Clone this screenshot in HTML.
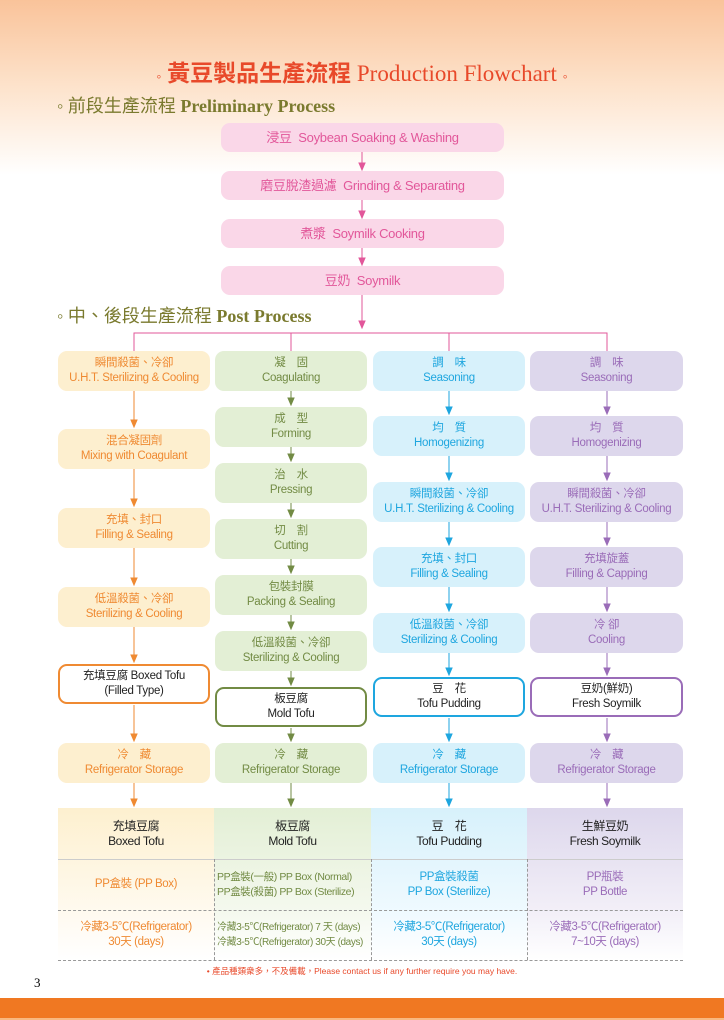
<!DOCTYPE html>
<html><head><meta charset="utf-8"><style>
*{margin:0;padding:0;box-sizing:border-box}
body{width:724px;height:1020px;position:relative;overflow:hidden;background:#fff;font-family:"Liberation Sans","Noto Sans CJK TC",sans-serif}
.bg{position:absolute;left:0;top:0;width:724px;height:175px;background:linear-gradient(#f9c39a 0%,#fde3cc 50%,#fff 100%)}
.b{position:absolute;border-radius:9px;text-align:center;font-size:11.5px;line-height:15px;display:flex;flex-direction:column;justify-content:center;letter-spacing:-0.3px}
.p{left:221px;width:283px;height:29px;background:#fad7e8;color:#e2579a;font-size:13px}
.o{left:58px;width:152px;height:40px;background:#fdefcf;color:#ef8a32}
.g{left:215px;width:152px;height:40px;background:#e3efd5;color:#728b44}
.c{left:373px;width:152px;height:40px;background:#d7f1fb;color:#1ea6df}
.u{left:530px;width:153px;height:40px;background:#ddd7ec;color:#9a6cb8}
.h{position:absolute;font-family:"Liberation Serif","Noto Serif CJK SC",serif;color:#7a7a2e;font-size:18px;font-weight:bold}
.td{position:absolute;text-align:center;font-size:11.5px;line-height:15px;display:flex;flex-direction:column;justify-content:center;letter-spacing:-0.4px}
</style></head><body>
<div class="bg"></div>
<div style="position:absolute;left:0;top:54px;width:724px;text-align:center;font-size:23px;color:#e8492a;font-family:'Liberation Serif','Noto Sans CJK TC',serif"><span style="font-size:14px">◦</span> <b style="font-family:'Noto Sans CJK TC',sans-serif">黃豆製品生產流程</b> Production Flowchart <span style="font-size:14px">◦</span></div>
<div class="h" style="left:57px;top:92px">◦ <span style="font-family:'Noto Sans CJK TC';font-weight:normal">前段生產流程</span> Preliminary Process</div>
<div class="h" style="left:57px;top:302px">◦ <span style="font-family:'Noto Sans CJK TC';font-weight:normal">中、後段生產流程</span> Post Process</div>

<div class="b p" style="top:123px">浸豆 &nbsp;Soybean Soaking &amp; Washing</div>
<div class="b p" style="top:171px">磨豆脫渣過濾 &nbsp;Grinding &amp; Separating</div>
<div class="b p" style="top:219px">煮漿 &nbsp;Soymilk Cooking</div>
<div class="b p" style="top:266px">豆奶 &nbsp;Soymilk</div>
<svg style="position:absolute;left:0;top:0" width="724" height="1020">
<g stroke="#e2579a" fill="#e2579a">
<line x1="362" y1="152" x2="362" y2="168"/><polygon points="359,163 365,163 362,170"/>
<line x1="362" y1="200" x2="362" y2="216"/><polygon points="359,211 365,211 362,218"/>
<line x1="362" y1="248" x2="362" y2="263"/><polygon points="359,258 365,258 362,265"/>
<line x1="362" y1="295" x2="362" y2="327"/><polygon points="359,321 365,321 362,328"/>
<polyline fill="none" points="134,352 134,333 607,333 607,352"/>
<line x1="291" y1="333" x2="291" y2="352"/><line x1="449" y1="333" x2="449" y2="352"/>
</g>
<g stroke="#ef8a32" fill="#ef8a32">
<line x1="134" y1="391" x2="134" y2="426"/><polygon points="131,420 137,420 134,427"/>
<line x1="134" y1="469" x2="134" y2="505"/><polygon points="131,499 137,499 134,506"/>
<line x1="134" y1="548" x2="134" y2="584"/><polygon points="131,578 137,578 134,585"/>
<line x1="134" y1="627" x2="134" y2="661"/><polygon points="131,655 137,655 134,662"/>
<line x1="134" y1="705" x2="134" y2="740"/><polygon points="131,734 137,734 134,741"/>
<line x1="134" y1="783" x2="134" y2="805"/><polygon points="131,799 137,799 134,806"/>
</g>
<g stroke="#728b44" fill="#728b44">
<line x1="291" y1="391" x2="291" y2="404"/><polygon points="288,398 294,398 291,405"/>
<line x1="291" y1="447" x2="291" y2="460"/><polygon points="288,454 294,454 291,461"/>
<line x1="291" y1="503" x2="291" y2="516"/><polygon points="288,510 294,510 291,517"/>
<line x1="291" y1="559" x2="291" y2="572"/><polygon points="288,566 294,566 291,573"/>
<line x1="291" y1="615" x2="291" y2="628"/><polygon points="288,622 294,622 291,629"/>
<line x1="291" y1="671" x2="291" y2="684"/><polygon points="288,678 294,678 291,685"/>
<line x1="291" y1="728" x2="291" y2="740"/><polygon points="288,734 294,734 291,741"/>
<line x1="291" y1="783" x2="291" y2="805"/><polygon points="288,799 294,799 291,806"/>
</g>
<g stroke="#1ea6df" fill="#1ea6df">
<line x1="449" y1="391" x2="449" y2="413"/><polygon points="446,407 452,407 449,414"/>
<line x1="449" y1="456" x2="449" y2="479"/><polygon points="446,473 452,473 449,480"/>
<line x1="449" y1="522" x2="449" y2="544"/><polygon points="446,538 452,538 449,545"/>
<line x1="449" y1="587" x2="449" y2="610"/><polygon points="446,604 452,604 449,611"/>
<line x1="449" y1="653" x2="449" y2="674"/><polygon points="446,668 452,668 449,675"/>
<line x1="449" y1="718" x2="449" y2="740"/><polygon points="446,734 452,734 449,741"/>
<line x1="449" y1="783" x2="449" y2="805"/><polygon points="446,799 452,799 449,806"/>
</g>
<g stroke="#9a6cb8" fill="#9a6cb8">
<line x1="607" y1="391" x2="607" y2="413"/><polygon points="604,407 610,407 607,414"/>
<line x1="607" y1="456" x2="607" y2="479"/><polygon points="604,473 610,473 607,480"/>
<line x1="607" y1="522" x2="607" y2="544"/><polygon points="604,538 610,538 607,545"/>
<line x1="607" y1="587" x2="607" y2="610"/><polygon points="604,604 610,604 607,611"/>
<line x1="607" y1="653" x2="607" y2="674"/><polygon points="604,668 610,668 607,675"/>
<line x1="607" y1="718" x2="607" y2="740"/><polygon points="604,734 610,734 607,741"/>
<line x1="607" y1="783" x2="607" y2="805"/><polygon points="604,799 610,799 607,806"/>
</g>
</svg>

<div class="b o" style="top:351px">瞬間殺菌、冷卻<br>U.H.T. Sterilizing &amp; Cooling</div>
<div class="b o" style="top:429px">混合凝固劑<br>Mixing with Coagulant</div>
<div class="b o" style="top:508px">充填、封口<br>Filling &amp; Sealing</div>
<div class="b o" style="top:587px">低溫殺菌、冷卻<br>Sterilizing &amp; Cooling</div>
<div class="b o" style="top:664px;background:#fff;border:2px solid #ef8a32;color:#222">充填豆腐 Boxed Tofu<br>(Filled Type)</div>
<div class="b o" style="top:743px">冷　藏<br>Refrigerator Storage</div>

<div class="b g" style="top:351px">凝　固<br>Coagulating</div>
<div class="b g" style="top:407px">成　型<br>Forming</div>
<div class="b g" style="top:463px">治　水<br>Pressing</div>
<div class="b g" style="top:519px">切　割<br>Cutting</div>
<div class="b g" style="top:575px">包裝封膜<br>Packing &amp; Sealing</div>
<div class="b g" style="top:631px">低溫殺菌、冷卻<br>Sterilizing &amp; Cooling</div>
<div class="b g" style="top:687px;background:#fff;border:2px solid #728b44;color:#222">板豆腐<br>Mold Tofu</div>
<div class="b g" style="top:743px">冷　藏<br>Refrigerator Storage</div>

<div class="b c" style="top:351px">調　味<br>Seasoning</div>
<div class="b c" style="top:416px">均　質<br>Homogenizing</div>
<div class="b c" style="top:482px">瞬間殺菌、冷卻<br>U.H.T. Sterilizing &amp; Cooling</div>
<div class="b c" style="top:547px">充填、封口<br>Filling &amp; Sealing</div>
<div class="b c" style="top:613px">低溫殺菌、冷卻<br>Sterilizing &amp; Cooling</div>
<div class="b c" style="top:677px;background:#fff;border:2px solid #1ea6df;color:#222">豆　花<br>Tofu Pudding</div>
<div class="b c" style="top:743px">冷　藏<br>Refrigerator Storage</div>

<div class="b u" style="top:351px">調　味<br>Seasoning</div>
<div class="b u" style="top:416px">均　質<br>Homogenizing</div>
<div class="b u" style="top:482px">瞬間殺菌、冷卻<br>U.H.T. Sterilizing &amp; Cooling</div>
<div class="b u" style="top:547px">充填旋蓋<br>Filling &amp; Capping</div>
<div class="b u" style="top:613px">冷 卻<br>Cooling</div>
<div class="b u" style="top:677px;background:#fff;border:2px solid #9a6cb8;color:#222">豆奶(鮮奶)<br>Fresh Soymilk</div>
<div class="b u" style="top:743px">冷　藏<br>Refrigerator Storage</div>

<div style="position:absolute;left:58px;top:808px;width:156px;height:152px;background:linear-gradient(#fdf0cf,#fffaf0 70%,#fff)"></div>
<div style="position:absolute;left:214px;top:808px;width:157px;height:152px;background:linear-gradient(#e3efd5,#f5f9ef 70%,#fff)"></div>
<div style="position:absolute;left:371px;top:808px;width:156px;height:152px;background:linear-gradient(#d7f1fb,#f0faff 70%,#fff)"></div>
<div style="position:absolute;left:527px;top:808px;width:156px;height:152px;background:linear-gradient(#ddd7ec,#f3f0f8 70%,#fff)"></div>
<div style="position:absolute;left:58px;top:859px;width:625px;border-top:1px solid #ccc"></div>
<div style="position:absolute;left:58px;top:910px;width:625px;border-top:1px dashed #999"></div>
<div style="position:absolute;left:58px;top:960px;width:625px;border-top:1px dashed #999"></div>
<div style="position:absolute;left:214px;top:859px;height:101px;border-left:1px dashed #999"></div>
<div style="position:absolute;left:371px;top:859px;height:101px;border-left:1px dashed #999"></div>
<div style="position:absolute;left:527px;top:859px;height:101px;border-left:1px dashed #999"></div>

<div class="td" style="left:58px;top:808px;width:156px;height:51px;color:#222;font-size:12px">充填豆腐<br>Boxed Tofu</div>
<div class="td" style="left:214px;top:808px;width:157px;height:51px;color:#222;font-size:12px">板豆腐<br>Mold Tofu</div>
<div class="td" style="left:371px;top:808px;width:156px;height:51px;color:#222;font-size:12px">豆　花<br>Tofu Pudding</div>
<div class="td" style="left:527px;top:808px;width:156px;height:51px;color:#222;font-size:12px">生鮮豆奶<br>Fresh Soymilk</div>

<div class="td" style="left:58px;top:859px;width:156px;height:51px;color:#ef8a32">PP盒裝 (PP Box)</div>
<div class="td" style="left:214px;top:859px;width:157px;height:51px;color:#728b44;font-size:10.5px;text-align:left;padding-left:3px">PP盒裝(一般) PP Box (Normal)<br>PP盒裝(殺菌) PP Box (Sterilize)</div>
<div class="td" style="left:371px;top:859px;width:156px;height:51px;color:#1ea6df">PP盒裝殺菌<br>PP Box (Sterilize)</div>
<div class="td" style="left:527px;top:859px;width:156px;height:51px;color:#9a6cb8">PP瓶裝<br>PP Bottle</div>

<div class="td" style="left:58px;top:910px;width:156px;height:50px;color:#ef8a32">冷藏3-5℃(Refrigerator)<br>30天 (days)</div>
<div class="td" style="left:214px;top:910px;width:157px;height:50px;color:#728b44;font-size:10px;text-align:left;padding-left:3px">冷藏3-5℃(Refrigerator) 7 天 (days)<br>冷藏3-5℃(Refrigerator) 30天 (days)</div>
<div class="td" style="left:371px;top:910px;width:156px;height:50px;color:#1ea6df">冷藏3-5℃(Refrigerator)<br>30天 (days)</div>
<div class="td" style="left:527px;top:910px;width:156px;height:50px;color:#9a6cb8">冷藏3-5℃(Refrigerator)<br>7~10天 (days)</div>

<div style="position:absolute;left:0;top:965px;width:724px;text-align:center;font-size:8.5px;color:#e8492a">• 產品種類衆多，不及備載，Please contact us if any further require you may have.</div>
<div style="position:absolute;left:34px;top:975px;font-size:13px;font-family:'Liberation Serif',serif">3</div>
<div style="position:absolute;left:0;top:998px;width:724px;height:20px;background:#f07822"></div>
<div style="position:absolute;left:0;top:1018px;width:724px;height:2px;background:#f8b880"></div>
</body></html>
